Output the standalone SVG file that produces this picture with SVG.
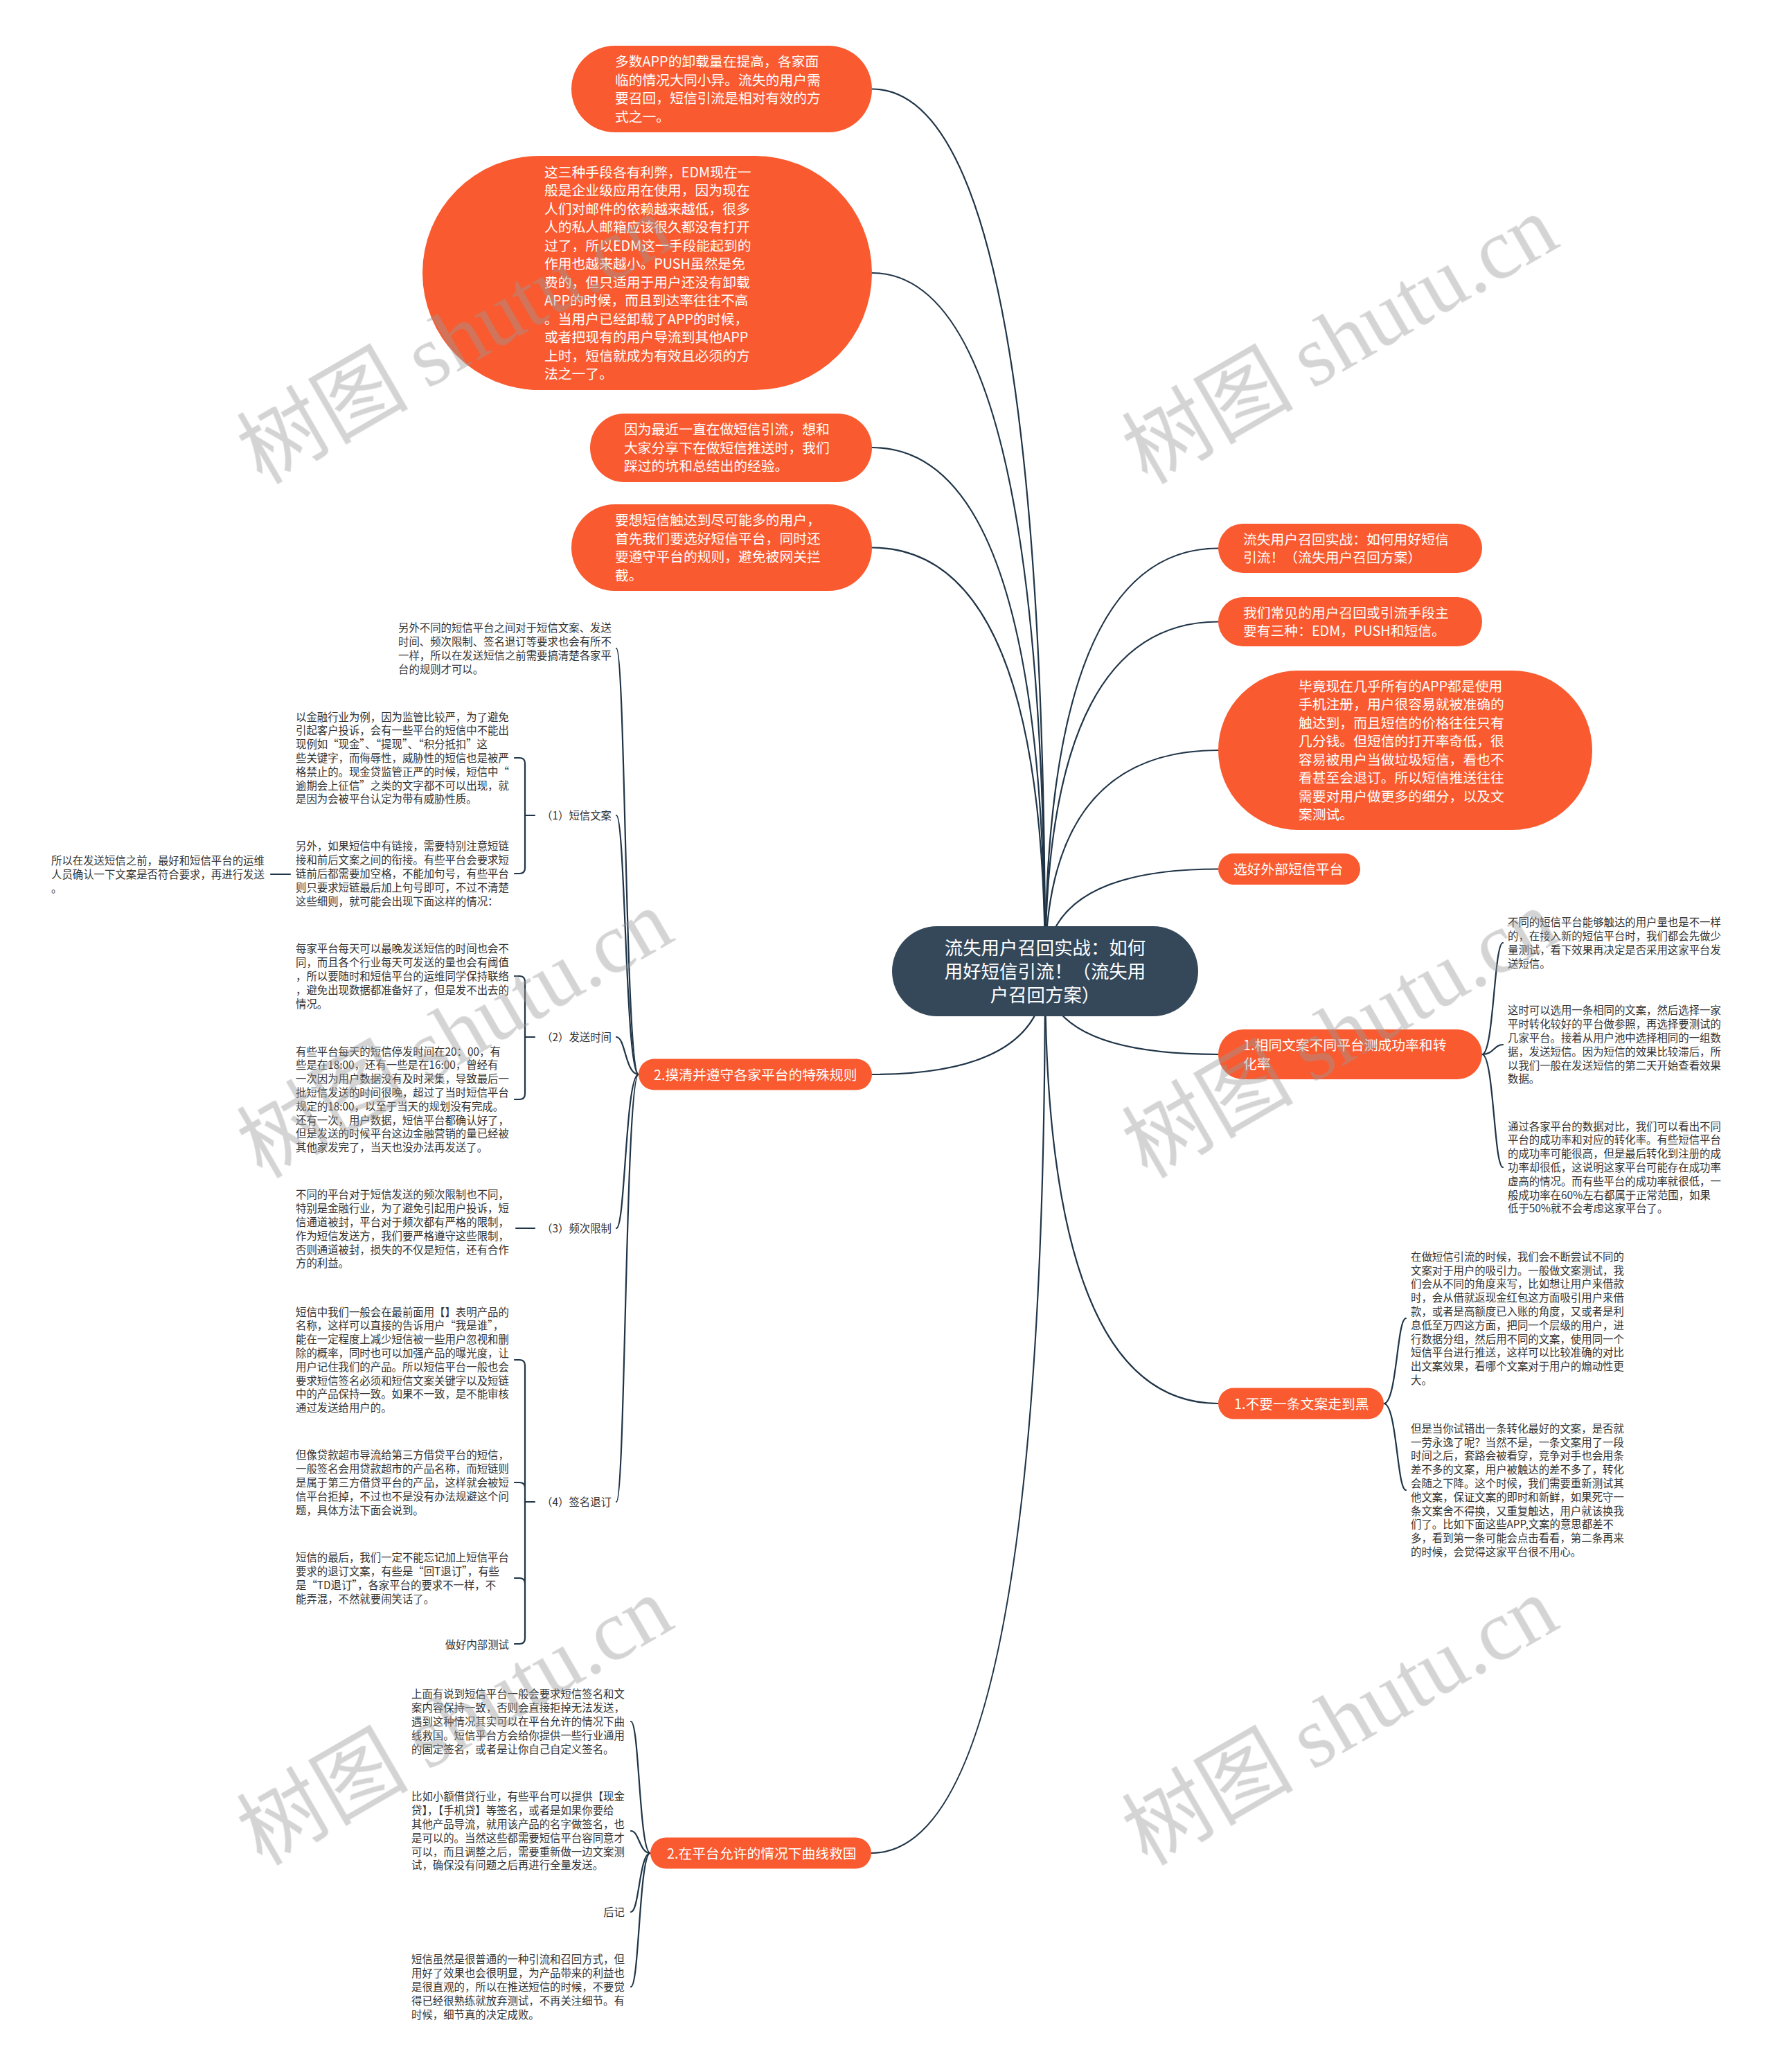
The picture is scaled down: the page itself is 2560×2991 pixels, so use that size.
<svg xmlns="http://www.w3.org/2000/svg" width="2560" height="2991" viewBox="0 0 2560 2991">
<style>
text{font-family:"Noto Sans CJK SC","Noto Sans",sans-serif}
.o{fill:#f95a2f}
.cnode{fill:#34485a}
.ot{fill:#fff;font-size:19.8px}
.ct{fill:#fff;font-size:26.4px;text-anchor:middle}
.st{fill:#333;font-size:15.4px}
.e{text-anchor:end}
.cn{fill:none;stroke:#1f3447;stroke-width:2.2;stroke-linecap:round}
.wm{font-size:124px;fill:#9a9a9a;opacity:0.42}
.wl{font-family:"Liberation Serif",serif}
</style>
<rect width="2560" height="2991" fill="#fff"/>
<g id="connectors" class="cn">
<path d="M1509 1402 Q1509 128.5 1259 128.5"/>
<path d="M1509 1402 Q1509 394 1259 394"/>
<path d="M1509 1402 Q1509 646 1259 646"/>
<path d="M1509 1402 Q1509 790.5 1259 790.5"/>
<path d="M1509 1402 Q1509 1551 1259 1551"/>
<path d="M1509 1402 Q1509 2675 1258 2675"/>
<path d="M1509 1402 Q1509 791.5 1759 791.5"/>
<path d="M1509 1402 Q1509 897.5 1759 897.5"/>
<path d="M1509 1402 Q1509 1083 1759 1083"/>
<path d="M1509 1402 Q1509 1254.5 1759 1254.5"/>
<path d="M1509 1402 Q1509 1522 1759 1522"/>
<path d="M1509 1402 Q1509 2026 1759 2026"/>
<path d="M922 1551 C903 1551 903 936 890 936"/>
<path d="M922 1551 C903 1551 903 1177 890 1177"/>
<path d="M922 1551 C903 1551 903 1497 890 1497"/>
<path d="M922 1551 C903 1551 903 1773 890 1773"/>
<path d="M922 1551 C903 1551 903 2168 890 2168"/>
<path d="M939 2675 C923 2675 923 2485 911 2485"/>
<path d="M939 2675 C923 2675 923 2643 911 2643"/>
<path d="M939 2675 C923 2675 923 2760 911 2760"/>
<path d="M939 2675 C923 2675 923 2868 911 2868"/>
<path d="M2140 1522 C2157 1522 2157 1361 2170 1361"/>
<path d="M2140 1522 C2157 1522 2157 1508 2170 1508"/>
<path d="M2140 1522 C2157 1522 2157 1685 2170 1685"/>
<path d="M1998 2026 C2017 2026 2017 1903 2030 1903"/>
<path d="M1998 2026 C2017 2026 2017 2151 2030 2151"/>
<path d="M743 1094 H750 Q758 1094 758 1102 V1253 Q758 1261 750 1261 H743 M758 1177 H772"/>
<path d="M743 1409 H750 Q758 1409 758 1417 V1579 Q758 1587 750 1587 H743 M758 1497 H772"/>
<path d="M745 1773 H772"/>
<path d="M743 1963 H750 Q758 1963 758 1971 V2365 Q758 2373 750 2373 H743 M743 2140 H750 Q758 2140 758 2148 M743 2278 H750 Q758 2278 758 2286 M758 2168 H772"/>
<path d="M391 1262 H419"/>
</g>
<g id="center">
<rect class="cnode" x="1288" y="1337" width="442" height="130" rx="65"/>
<text class="ct"><tspan x="1509" y="1378">流失用户召回实战：如何</tspan><tspan x="1509" y="1412">用好短信引流！（流失用</tspan><tspan x="1509" y="1446">户召回方案）</tspan></text>
</g>
<g id="n1">
<rect class="o" x="825" y="66" width="434" height="125" rx="62.5"/>
<text class="ot"><tspan x="888" y="96.3">多数APP的卸载量在提高，各家面</tspan><tspan x="888" dy="26.5">临的情况大同小异。流失的用户需</tspan><tspan x="888" dy="26.5">要召回，短信引流是相对有效的方</tspan><tspan x="888" dy="26.5">式之一。</tspan></text>
</g>
<g id="n2">
<rect class="o" x="610" y="225" width="649" height="338" rx="169"/>
<text class="ot"><tspan x="786" y="255.8">这三种手段各有利弊，EDM现在一</tspan><tspan x="786" dy="26.5">般是企业级应用在使用，因为现在</tspan><tspan x="786" dy="26.5">人们对邮件的依赖越来越低，很多</tspan><tspan x="786" dy="26.5">人的私人邮箱应该很久都没有打开</tspan><tspan x="786" dy="26.5">过了，所以EDM这一手段能起到的</tspan><tspan x="786" dy="26.5">作用也越来越小。PUSH虽然是免</tspan><tspan x="786" dy="26.5">费的，但只适用于用户还没有卸载</tspan><tspan x="786" dy="26.5">APP的时候，而且到达率往往不高</tspan><tspan x="786" dy="26.5">。当用户已经卸载了APP的时候，</tspan><tspan x="786" dy="26.5">或者把现有的用户导流到其他APP</tspan><tspan x="786" dy="26.5">上时，短信就成为有效且必须的方</tspan><tspan x="786" dy="26.5">法之一了。</tspan></text>
</g>
<g id="n3">
<rect class="o" x="852" y="597" width="407" height="99" rx="49.5"/>
<text class="ot"><tspan x="901" y="627">因为最近一直在做短信引流，想和</tspan><tspan x="901" dy="26.5">大家分享下在做短信推送时，我们</tspan><tspan x="901" dy="26.5">踩过的坑和总结出的经验。</tspan></text>
</g>
<g id="n4">
<rect class="o" x="825" y="728" width="434" height="125" rx="62.5"/>
<text class="ot"><tspan x="888" y="758.3">要想短信触达到尽可能多的用户，</tspan><tspan x="888" dy="26.5">首先我们要选好短信平台，同时还</tspan><tspan x="888" dy="26.5">要遵守平台的规则，避免被网关拦</tspan><tspan x="888" dy="26.5">截。</tspan></text>
</g>
<g id="l1">
<rect class="o" x="922" y="1528.5" width="337" height="45" rx="22.5"/>
<text class="ot" x="944" y="1558.5">2.摸清并遵守各家平台的特殊规则</text>
</g>
<g id="l2">
<rect class="o" x="939" y="2652.5" width="319" height="45" rx="22.5"/>
<text class="ot" x="963" y="2682.5">2.在平台允许的情况下曲线救国</text>
</g>
<g id="r1">
<rect class="o" x="1759" y="756" width="381" height="71" rx="35.5"/>
<text class="ot"><tspan x="1795" y="785.8">流失用户召回实战：如何用好短信</tspan><tspan x="1795" dy="26.5">引流！（流失用户召回方案）</tspan></text>
</g>
<g id="r2">
<rect class="o" x="1759" y="862" width="381" height="71" rx="35.5"/>
<text class="ot"><tspan x="1795" y="891.8">我们常见的用户召回或引流手段主</tspan><tspan x="1795" dy="26.5">要有三种：EDM，PUSH和短信。</tspan></text>
</g>
<g id="r3">
<rect class="o" x="1759" y="968" width="540" height="230" rx="115"/>
<text class="ot"><tspan x="1875" y="997.8">毕竟现在几乎所有的APP都是使用</tspan><tspan x="1875" dy="26.5">手机注册，用户很容易就被准确的</tspan><tspan x="1875" dy="26.5">触达到，而且短信的价格往往只有</tspan><tspan x="1875" dy="26.5">几分钱。但短信的打开率奇低，很</tspan><tspan x="1875" dy="26.5">容易被用户当做垃圾短信，看也不</tspan><tspan x="1875" dy="26.5">看甚至会退订。所以短信推送往往</tspan><tspan x="1875" dy="26.5">需要对用户做更多的细分，以及文</tspan><tspan x="1875" dy="26.5">案测试。</tspan></text>
</g>
<g id="r4">
<rect class="o" x="1759" y="1232" width="205" height="45" rx="22.5"/>
<text class="ot" x="1781" y="1262">选好外部短信平台</text>
</g>
<g id="s1">
<rect class="o" x="1759" y="1486" width="381" height="72" rx="36"/>
<text class="ot"><tspan x="1795" y="1516.3">1.相同文案不同平台测成功率和转</tspan><tspan x="1795" dy="26.5">化率</tspan></text>
</g>
<g id="s2">
<rect class="o" x="1759" y="2003.5" width="239" height="45" rx="22.5"/>
<text class="ot" x="1782" y="2033.5">1.不要一条文案走到黑</text>
</g>
<g id="c1">
<text class="st"><tspan x="575" y="912.2">另外不同的短信平台之间对于短信文案、发送</tspan><tspan x="575" dy="19.8">时间、频次限制、签名退订等要求也会有所不</tspan><tspan x="575" dy="19.8">一样，所以在发送短信之前需要搞清楚各家平</tspan><tspan x="575" dy="19.8">台的规则才可以。</tspan></text>
</g>
<g id="c2"><text class="st e" x="883" y="1183">（1）短信文案</text></g>
<g id="c3"><text class="st e" x="883" y="1503">（2）发送时间</text></g>
<g id="c4"><text class="st e" x="883" y="1779">（3）频次限制</text></g>
<g id="c5"><text class="st e" x="883" y="2174">（4）签名退订</text></g>
<g id="d1">
<text class="st"><tspan x="427" y="1040.5">以金融行业为例，因为监管比较严，为了避免</tspan><tspan x="427" dy="19.8">引起客户投诉，会有一些平台的短信中不能出</tspan><tspan x="427" dy="19.8">现例如“现金”、“提现”、“积分抵扣”这</tspan><tspan x="427" dy="19.8">些关键字，而侮辱性，威胁性的短信也是被严</tspan><tspan x="427" dy="19.8">格禁止的。现金贷监管正严的时候，短信中“</tspan><tspan x="427" dy="19.8">逾期会上征信”之类的文字都不可以出现，就</tspan><tspan x="427" dy="19.8">是因为会被平台认定为带有威胁性质。</tspan></text>
</g>
<g id="d2">
<text class="st"><tspan x="427" y="1227.3">另外，如果短信中有链接，需要特别注意短链</tspan><tspan x="427" dy="19.8">接和前后文案之间的衔接。有些平台会要求短</tspan><tspan x="427" dy="19.8">链前后都需要加空格，不能加句号，有些平台</tspan><tspan x="427" dy="19.8">则只要求短链最后加上句号即可，不过不清楚</tspan><tspan x="427" dy="19.8">这些细则，就可能会出现下面这样的情况：</tspan></text>
</g>
<g id="e1">
<text class="st"><tspan x="74" y="1248.1">所以在发送短信之前，最好和短信平台的运维</tspan><tspan x="74" dy="19.8">人员确认一下文案是否符合要求，再进行发送</tspan><tspan x="74" dy="19.8">。</tspan></text>
</g>
<g id="d3">
<text class="st"><tspan x="427" y="1375.3">每家平台每天可以最晚发送短信的时间也会不</tspan><tspan x="427" dy="19.8">同，而且各个行业每天可发送的量也会有阈值</tspan><tspan x="427" dy="19.8">，所以要随时和短信平台的运维同学保持联络</tspan><tspan x="427" dy="19.8">，避免出现数据都准备好了，但是发不出去的</tspan><tspan x="427" dy="19.8">情况。</tspan></text>
</g>
<g id="d4">
<text class="st"><tspan x="427" y="1523.6">有些平台每天的短信停发时间在20：00，有</tspan><tspan x="427" dy="19.8">些是在18:00，还有一些是在16:00，曾经有</tspan><tspan x="427" dy="19.8">一次因为用户数据没有及时采集，导致最后一</tspan><tspan x="427" dy="19.8">批短信发送的时间很晚，超过了当时短信平台</tspan><tspan x="427" dy="19.8">规定的18:00，以至于当天的规划没有完成。</tspan><tspan x="427" dy="19.8">还有一次，用户数据，短信平台都确认好了，</tspan><tspan x="427" dy="19.8">但是发送的时候平台这边金融营销的量已经被</tspan><tspan x="427" dy="19.8">其他家发完了，当天也没办法再发送了。</tspan></text>
</g>
<g id="d5">
<text class="st"><tspan x="427" y="1730.4">不同的平台对于短信发送的频次限制也不同，</tspan><tspan x="427" dy="19.8">特别是金融行业，为了避免引起用户投诉，短</tspan><tspan x="427" dy="19.8">信通道被封，平台对于频次都有严格的限制，</tspan><tspan x="427" dy="19.8">作为短信发送方，我们要严格遵守这些限制，</tspan><tspan x="427" dy="19.8">否则通道被封，损失的不仅是短信，还有合作</tspan><tspan x="427" dy="19.8">方的利益。</tspan></text>
</g>
<g id="d6">
<text class="st"><tspan x="427" y="1899.6">短信中我们一般会在最前面用【】表明产品的</tspan><tspan x="427" dy="19.8">名称，这样可以直接的告诉用户“我是谁”，</tspan><tspan x="427" dy="19.8">能在一定程度上减少短信被一些用户忽视和删</tspan><tspan x="427" dy="19.8">除的概率，同时也可以加强产品的曝光度，让</tspan><tspan x="427" dy="19.8">用户记住我们的产品。所以短信平台一般也会</tspan><tspan x="427" dy="19.8">要求短信签名必须和短信文案关键字以及短链</tspan><tspan x="427" dy="19.8">中的产品保持一致。如果不一致，是不能审核</tspan><tspan x="427" dy="19.8">通过发送给用户的。</tspan></text>
</g>
<g id="d7">
<text class="st"><tspan x="427" y="2106.3">但像贷款超市导流给第三方借贷平台的短信，</tspan><tspan x="427" dy="19.8">一般签名会用贷款超市的产品名称，而短链则</tspan><tspan x="427" dy="19.8">是属于第三方借贷平台的产品，这样就会被短</tspan><tspan x="427" dy="19.8">信平台拒掉，不过也不是没有办法规避这个问</tspan><tspan x="427" dy="19.8">题，具体方法下面会说到。</tspan></text>
</g>
<g id="d8">
<text class="st"><tspan x="427" y="2254.2">短信的最后，我们一定不能忘记加上短信平台</tspan><tspan x="427" dy="19.8">要求的退订文案，有些是“回T退订”，有些</tspan><tspan x="427" dy="19.8">是“TD退订”，各家平台的要求不一样，不</tspan><tspan x="427" dy="19.8">能弄混，不然就要闹笑话了。</tspan></text>
</g>
<g id="d9"><text class="st e" x="735" y="2380">做好内部测试</text></g>
<g id="f1">
<text class="st"><tspan x="594" y="2451.3">上面有说到短信平台一般会要求短信签名和文</tspan><tspan x="594" dy="19.8">案内容保持一致，否则会直接拒掉无法发送，</tspan><tspan x="594" dy="19.8">遇到这种情况其实可以在平台允许的情况下曲</tspan><tspan x="594" dy="19.8">线救国。短信平台方会给你提供一些行业通用</tspan><tspan x="594" dy="19.8">的固定签名，或者是让你自己自定义签名。</tspan></text>
</g>
<g id="f2">
<text class="st"><tspan x="594" y="2599.4">比如小额借贷行业，有些平台可以提供【现金</tspan><tspan x="594" dy="19.8">贷】，【手机贷】等签名，或者是如果你要给</tspan><tspan x="594" dy="19.8">其他产品导流，就用该产品的名字做签名，也</tspan><tspan x="594" dy="19.8">是可以的。当然这些都需要短信平台容同意才</tspan><tspan x="594" dy="19.8">可以，而且调整之后，需要重新做一边文案测</tspan><tspan x="594" dy="19.8">试，确保没有问题之后再进行全量发送。</tspan></text>
</g>
<g id="f3"><text class="st e" x="902" y="2766">后记</text></g>
<g id="f4">
<text class="st"><tspan x="594" y="2834.3">短信虽然是很普通的一种引流和召回方式，但</tspan><tspan x="594" dy="19.8">用好了效果也会很明显，为产品带来的利益也</tspan><tspan x="594" dy="19.8">是很直观的，所以在推送短信的时候，不要觉</tspan><tspan x="594" dy="19.8">得已经很熟练就放弃测试，不再关注细节。有</tspan><tspan x="594" dy="19.8">时候，细节真的决定成败。</tspan></text>
</g>
<g id="g1">
<text class="st"><tspan x="2177" y="1337.2">不同的短信平台能够触达的用户量也是不一样</tspan><tspan x="2177" dy="19.8">的，在接入新的短信平台时，我们都会先做少</tspan><tspan x="2177" dy="19.8">量测试，看下效果再决定是否采用这家平台发</tspan><tspan x="2177" dy="19.8">送短信。</tspan></text>
</g>
<g id="g2">
<text class="st"><tspan x="2177" y="1464.4">这时可以选用一条相同的文案，然后选择一家</tspan><tspan x="2177" dy="19.8">平时转化较好的平台做参照，再选择要测试的</tspan><tspan x="2177" dy="19.8">几家平台。接着从用户池中选择相同的一组数</tspan><tspan x="2177" dy="19.8">据，发送短信。因为短信的效果比较滞后，所</tspan><tspan x="2177" dy="19.8">以我们一般在发送短信的第二天开始查看效果</tspan><tspan x="2177" dy="19.8">数据。</tspan></text>
</g>
<g id="g3">
<text class="st"><tspan x="2177" y="1631.5">通过各家平台的数据对比，我们可以看出不同</tspan><tspan x="2177" dy="19.8">平台的成功率和对应的转化率。有些短信平台</tspan><tspan x="2177" dy="19.8">的成功率可能很高，但是最后转化到注册的成</tspan><tspan x="2177" dy="19.8">功率却很低，这说明这家平台可能存在成功率</tspan><tspan x="2177" dy="19.8">虚高的情况。而有些平台的成功率就很低，一</tspan><tspan x="2177" dy="19.8">般成功率在60%左右都属于正常范围，如果</tspan><tspan x="2177" dy="19.8">低于50%就不会考虑这家平台了。</tspan></text>
</g>
<g id="h1">
<text class="st"><tspan x="2037" y="1819.8">在做短信引流的时候，我们会不断尝试不同的</tspan><tspan x="2037" dy="19.8">文案对于用户的吸引力。一般做文案测试，我</tspan><tspan x="2037" dy="19.8">们会从不同的角度来写，比如想让用户来借款</tspan><tspan x="2037" dy="19.8">时，会从借就返现金红包这方面吸引用户来借</tspan><tspan x="2037" dy="19.8">款，或者是高额度已入账的角度，又或者是利</tspan><tspan x="2037" dy="19.8">息低至万四这方面，把同一个层级的用户，进</tspan><tspan x="2037" dy="19.8">行数据分组，然后用不同的文案，使用同一个</tspan><tspan x="2037" dy="19.8">短信平台进行推送，这样可以比较准确的对比</tspan><tspan x="2037" dy="19.8">出文案效果，看哪个文案对于用户的煽动性更</tspan><tspan x="2037" dy="19.8">大。</tspan></text>
</g>
<g id="h2">
<text class="st"><tspan x="2037" y="2067.8">但是当你试错出一条转化最好的文案，是否就</tspan><tspan x="2037" dy="19.8">一劳永逸了呢？当然不是，一条文案用了一段</tspan><tspan x="2037" dy="19.8">时间之后，套路会被看穿，竞争对手也会用条</tspan><tspan x="2037" dy="19.8">差不多的文案，用户被触达的差不多了，转化</tspan><tspan x="2037" dy="19.8">会随之下降。这个时候，我们需要重新测试其</tspan><tspan x="2037" dy="19.8">他文案，保证文案的即时和新鲜，如果死守一</tspan><tspan x="2037" dy="19.8">条文案舍不得换，又重复触达，用户就该换我</tspan><tspan x="2037" dy="19.8">们了。比如下面这些APP,文案的意思都差不</tspan><tspan x="2037" dy="19.8">多，看到第一条可能会点击看看，第二条再来</tspan><tspan x="2037" dy="19.8">的时候，会觉得这家平台很不用心。</tspan></text>
</g>
<g id="watermark" class="wm">
<text transform="rotate(-30 378 700)" x="378" y="700">树图 <tspan class="wl">shutu.cn</tspan></text>
<text transform="rotate(-30 1656 700)" x="1656" y="700">树图 <tspan class="wl">shutu.cn</tspan></text>
<text transform="rotate(-30 378 1702)" x="378" y="1702">树图 <tspan class="wl">shutu.cn</tspan></text>
<text transform="rotate(-30 1656 1702)" x="1656" y="1702">树图 <tspan class="wl">shutu.cn</tspan></text>
<text transform="rotate(-30 378 2694)" x="378" y="2694">树图 <tspan class="wl">shutu.cn</tspan></text>
<text transform="rotate(-30 1656 2694)" x="1656" y="2694">树图 <tspan class="wl">shutu.cn</tspan></text>
</g>
</svg>
